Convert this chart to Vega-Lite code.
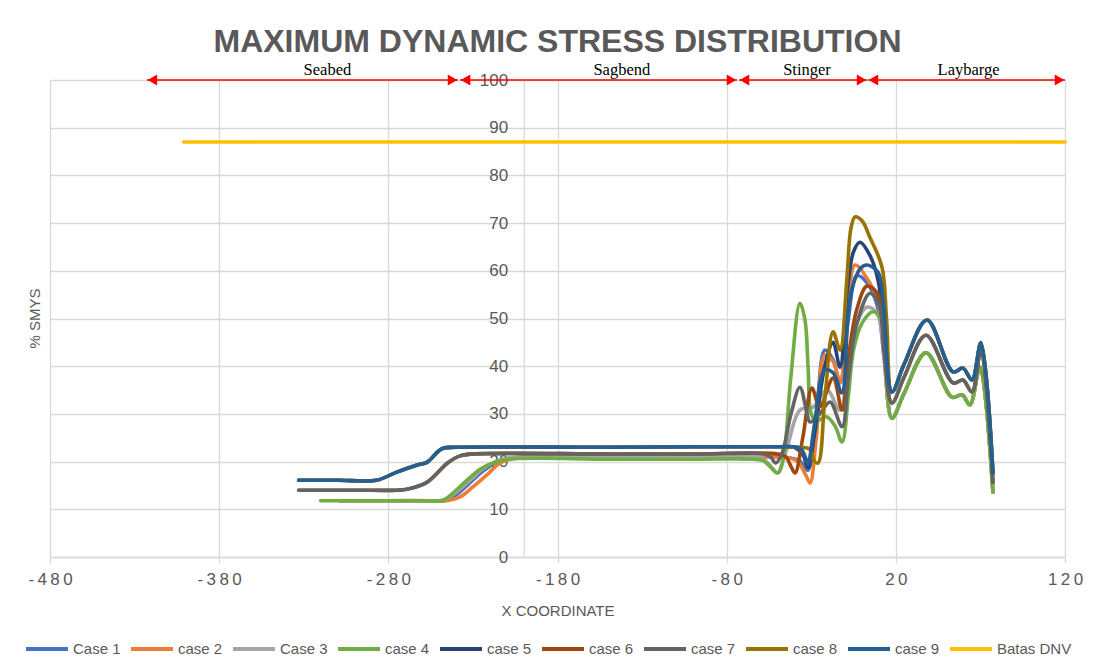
{
  "$schema": "https://vega.github.io/schema/vega-lite/v6.json",
  "width": 1015,
  "height": 477,
  "autosize": {"type": "none"},
  "padding": {"left": 50, "top": 80, "right": 44, "bottom": 112},
  "background": "white",
  "config": {"view": {"stroke": null}, "font": "Liberation Sans"},
  "title": {
    "text": "MAXIMUM DYNAMIC STRESS DISTRIBUTION",
    "font": "Liberation Sans",
    "fontSize": 32,
    "fontWeight": "bold",
    "color": "#595959",
    "anchor": "middle",
    "offset": 3
  },
  "datasets": {
    "arrows": [
      {"label": "Seabed", "x1": -422.7, "x2": -238.8, "xm": -316},
      {"label": "Sagbend", "x1": -237.6, "x2": -73.9, "xm": -142},
      {"label": "Stinger", "x1": -72.7, "x2": 3.0, "xm": -32.5},
      {"label": "Laybarge", "x1": 3.5, "x2": 120, "xm": 63}
    ],
    "lines": [
      {"c":"Case 1","x":-309,"y":11.8},{"c":"Case 1","x":-280,"y":11.8},{"c":"Case 1","x":-255,"y":11.8},{"c":"Case 1","x":-247.7,"y":11.8},{"c":"Case 1","x":-240,"y":13.0},{"c":"Case 1","x":-232,"y":15.5},{"c":"Case 1","x":-224,"y":18.0},{"c":"Case 1","x":-216,"y":19.9},{"c":"Case 1","x":-208,"y":20.7},{"c":"Case 1","x":-195,"y":21.0},{"c":"Case 1","x":-150,"y":21.0},{"c":"Case 1","x":-100,"y":21.0},{"c":"Case 1","x":-60,"y":21.0},{"c":"Case 1","x":-45,"y":20.9},{"c":"Case 1","x":-37,"y":20.2},{"c":"Case 1","x":-32,"y":18.2},{"c":"Case 1","x":-27,"y":30},{"c":"Case 1","x":-21.9,"y":43.4},{"c":"Case 1","x":-17,"y":41.3},{"c":"Case 1","x":-13,"y":36.5},{"c":"Case 1","x":-8,"y":50},{"c":"Case 1","x":-3,"y":59},{"c":"Case 1","x":4,"y":57},{"c":"Case 1","x":9.5,"y":52},{"c":"Case 1","x":13,"y":42},{"c":"Case 1","x":17.7,"y":29.1},{"c":"Case 1","x":25,"y":34.4},{"c":"Case 1","x":37.8,"y":42.8},{"c":"Case 1","x":53.2,"y":33.5},{"c":"Case 1","x":59.1,"y":34.0},{"c":"Case 1","x":63.8,"y":31.9},{"c":"Case 1","x":69.7,"y":39.8},{"c":"Case 1","x":77.4,"y":13.6},

      {"c":"case 2","x":-309,"y":11.8},{"c":"case 2","x":-280,"y":11.8},{"c":"case 2","x":-255,"y":11.8},{"c":"case 2","x":-247.7,"y":11.7},{"c":"case 2","x":-237.6,"y":12.6},{"c":"case 2","x":-230,"y":14.7},{"c":"case 2","x":-221.7,"y":17.2},{"c":"case 2","x":-214,"y":19.7},{"c":"case 2","x":-206.3,"y":20.6},{"c":"case 2","x":-195,"y":21.0},{"c":"case 2","x":-150,"y":21.0},{"c":"case 2","x":-100,"y":21.0},{"c":"case 2","x":-60,"y":21.0},{"c":"case 2","x":-45,"y":20.9},{"c":"case 2","x":-38,"y":20.0},{"c":"case 2","x":-33,"y":17.0},{"c":"case 2","x":-30.7,"y":15.5},{"c":"case 2","x":-27,"y":25},{"c":"case 2","x":-21.9,"y":42.3},{"c":"case 2","x":-17,"y":40.9},{"c":"case 2","x":-13,"y":36.5},{"c":"case 2","x":-8.3,"y":52},{"c":"case 2","x":-4.1,"y":61.2},{"c":"case 2","x":4.7,"y":57.4},{"c":"case 2","x":9.5,"y":53.5},{"c":"case 2","x":13,"y":43},{"c":"case 2","x":17.7,"y":29.1},{"c":"case 2","x":25,"y":34.4},{"c":"case 2","x":37.8,"y":42.8},{"c":"case 2","x":53.2,"y":33.5},{"c":"case 2","x":59.1,"y":34.0},{"c":"case 2","x":63.8,"y":31.9},{"c":"case 2","x":69.7,"y":39.8},{"c":"case 2","x":77.4,"y":13.6},

      {"c":"Case 3","x":-309,"y":11.8},{"c":"Case 3","x":-280,"y":11.8},{"c":"Case 3","x":-255,"y":11.8},{"c":"Case 3","x":-247.7,"y":11.9},{"c":"Case 3","x":-240,"y":13.5},{"c":"Case 3","x":-232,"y":16.0},{"c":"Case 3","x":-224,"y":18.5},{"c":"Case 3","x":-216,"y":20.1},{"c":"Case 3","x":-208,"y":20.8},{"c":"Case 3","x":-195,"y":21.0},{"c":"Case 3","x":-150,"y":21.0},{"c":"Case 3","x":-100,"y":21.0},{"c":"Case 3","x":-66,"y":21.0},{"c":"Case 3","x":-60,"y":20.8},{"c":"Case 3","x":-55,"y":19.5},{"c":"Case 3","x":-50.2,"y":17.6},{"c":"Case 3","x":-45,"y":22},{"c":"Case 3","x":-36.7,"y":30.8},{"c":"Case 3","x":-29,"y":31.4},{"c":"Case 3","x":-20.7,"y":35},{"c":"Case 3","x":-13,"y":30.8},{"c":"Case 3","x":-8,"y":40},{"c":"Case 3","x":-3,"y":49},{"c":"Case 3","x":2.9,"y":52.4},{"c":"Case 3","x":9,"y":51},{"c":"Case 3","x":13,"y":42},{"c":"Case 3","x":17.7,"y":29.1},{"c":"Case 3","x":25,"y":34.4},{"c":"Case 3","x":37.8,"y":42.8},{"c":"Case 3","x":53.2,"y":33.5},{"c":"Case 3","x":59.1,"y":34.0},{"c":"Case 3","x":63.8,"y":31.9},{"c":"Case 3","x":69.7,"y":39.8},{"c":"Case 3","x":77.4,"y":13.6},

      {"c":"case 4","x":-320,"y":11.8},{"c":"case 4","x":-290,"y":11.8},{"c":"case 4","x":-260,"y":11.8},{"c":"case 4","x":-247.7,"y":11.9},{"c":"case 4","x":-241.8,"y":13.4},{"c":"case 4","x":-233.5,"y":16.1},{"c":"case 4","x":-225.8,"y":18.4},{"c":"case 4","x":-218.1,"y":19.7},{"c":"case 4","x":-210,"y":20.5},{"c":"case 4","x":-150,"y":20.5},{"c":"case 4","x":-100,"y":20.5},{"c":"case 4","x":-64,"y":20.5},{"c":"case 4","x":-58.5,"y":20.2},{"c":"case 4","x":-53,"y":18.5},{"c":"case 4","x":-49.7,"y":17.6},{"c":"case 4","x":-46.7,"y":20.3},{"c":"case 4","x":-42,"y":38},{"c":"case 4","x":-36.7,"y":53.2},{"c":"case 4","x":-33.7,"y":49.7},{"c":"case 4","x":-31.9,"y":40},{"c":"case 4","x":-30,"y":30},{"c":"case 4","x":-27,"y":28.5},{"c":"case 4","x":-21,"y":29.4},{"c":"case 4","x":-16,"y":27.5},{"c":"case 4","x":-11.8,"y":24.1},{"c":"case 4","x":-8,"y":34},{"c":"case 4","x":-5,"y":43.4},{"c":"case 4","x":0,"y":49},{"c":"case 4","x":6.5,"y":51.4},{"c":"case 4","x":11,"y":50},{"c":"case 4","x":14,"y":40},{"c":"case 4","x":17.7,"y":29.1},{"c":"case 4","x":25,"y":34.4},{"c":"case 4","x":37.8,"y":42.8},{"c":"case 4","x":53.2,"y":33.5},{"c":"case 4","x":59.1,"y":34.0},{"c":"case 4","x":63.8,"y":31.9},{"c":"case 4","x":69.7,"y":39.8},{"c":"case 4","x":77.4,"y":13.6},

      {"c":"case 5","x":-333,"y":16.1},{"c":"case 5","x":-310,"y":16.1},{"c":"case 5","x":-287,"y":16.1},{"c":"case 5","x":-275,"y":17.8},{"c":"case 5","x":-263,"y":19.3},{"c":"case 5","x":-257,"y":19.9},{"c":"case 5","x":-251,"y":22.0},{"c":"case 5","x":-247.7,"y":22.8},{"c":"case 5","x":-240,"y":23.0},{"c":"case 5","x":-150,"y":23.0},{"c":"case 5","x":-100,"y":23.1},{"c":"case 5","x":-50,"y":23.1},{"c":"case 5","x":-40,"y":23.0},{"c":"case 5","x":-35,"y":21.5},{"c":"case 5","x":-31.9,"y":18.7},{"c":"case 5","x":-28,"y":26},{"c":"case 5","x":-22,"y":40},{"c":"case 5","x":-17.1,"y":45},{"c":"case 5","x":-13,"y":39.8},{"c":"case 5","x":-9,"y":55},{"c":"case 5","x":-5,"y":64},{"c":"case 5","x":-1.2,"y":66},{"c":"case 5","x":5,"y":63},{"c":"case 5","x":9.5,"y":58},{"c":"case 5","x":13,"y":48},{"c":"case 5","x":17.7,"y":34.6},{"c":"case 5","x":25,"y":40.5},{"c":"case 5","x":38.4,"y":49.7},{"c":"case 5","x":53.8,"y":38.8},{"c":"case 5","x":59.7,"y":39.6},{"c":"case 5","x":65,"y":37.1},{"c":"case 5","x":70.3,"y":44.9},{"c":"case 5","x":77.4,"y":17.6},

      {"c":"case 6","x":-333,"y":14.0},{"c":"case 6","x":-300,"y":14.0},{"c":"case 6","x":-275,"y":14.0},{"c":"case 6","x":-269,"y":14.2},{"c":"case 6","x":-257,"y":15.7},{"c":"case 6","x":-245,"y":19.7},{"c":"case 6","x":-237.6,"y":21.2},{"c":"case 6","x":-230,"y":21.6},{"c":"case 6","x":-150,"y":21.6},{"c":"case 6","x":-100,"y":21.6},{"c":"case 6","x":-50,"y":21.6},{"c":"case 6","x":-45,"y":21.0},{"c":"case 6","x":-42,"y":19},{"c":"case 6","x":-39.6,"y":17.6},{"c":"case 6","x":-35,"y":25},{"c":"case 6","x":-29.6,"y":35.4},{"c":"case 6","x":-25,"y":31.5},{"c":"case 6","x":-17.1,"y":37.5},{"c":"case 6","x":-11.8,"y":30.8},{"c":"case 6","x":-8,"y":42},{"c":"case 6","x":-3,"y":52},{"c":"case 6","x":3,"y":56.8},{"c":"case 6","x":9.5,"y":55},{"c":"case 6","x":13,"y":45},{"c":"case 6","x":17.7,"y":32.3},{"c":"case 6","x":25,"y":37.8},{"c":"case 6","x":37.8,"y":46.5},{"c":"case 6","x":53.8,"y":36.5},{"c":"case 6","x":59.7,"y":37.1},{"c":"case 6","x":65,"y":34.6},{"c":"case 6","x":70.3,"y":43.4},{"c":"case 6","x":77.4,"y":15.7},

      {"c":"case 7","x":-333,"y":14.0},{"c":"case 7","x":-300,"y":14.0},{"c":"case 7","x":-275,"y":14.0},{"c":"case 7","x":-269,"y":14.2},{"c":"case 7","x":-257,"y":15.7},{"c":"case 7","x":-245,"y":19.7},{"c":"case 7","x":-237.6,"y":21.2},{"c":"case 7","x":-230,"y":21.6},{"c":"case 7","x":-150,"y":21.6},{"c":"case 7","x":-100,"y":21.6},{"c":"case 7","x":-58,"y":21.6},{"c":"case 7","x":-54,"y":21.0},{"c":"case 7","x":-51,"y":19.7},{"c":"case 7","x":-47,"y":22},{"c":"case 7","x":-42,"y":30},{"c":"case 7","x":-36.7,"y":35.6},{"c":"case 7","x":-33,"y":31},{"c":"case 7","x":-30.7,"y":28.3},{"c":"case 7","x":-25,"y":30},{"c":"case 7","x":-18.9,"y":32.5},{"c":"case 7","x":-11.8,"y":27.3},{"c":"case 7","x":-8,"y":38},{"c":"case 7","x":-3,"y":49},{"c":"case 7","x":4.7,"y":55.3},{"c":"case 7","x":10,"y":53},{"c":"case 7","x":13,"y":43},{"c":"case 7","x":17.7,"y":32.3},{"c":"case 7","x":25,"y":37.8},{"c":"case 7","x":37.8,"y":46.5},{"c":"case 7","x":53.8,"y":36.5},{"c":"case 7","x":59.7,"y":37.1},{"c":"case 7","x":65,"y":34.6},{"c":"case 7","x":70.3,"y":43.4},{"c":"case 7","x":77.4,"y":15.7},

      {"c":"case 8","x":-333,"y":16.1},{"c":"case 8","x":-310,"y":16.1},{"c":"case 8","x":-287,"y":16.1},{"c":"case 8","x":-275,"y":17.8},{"c":"case 8","x":-263,"y":19.3},{"c":"case 8","x":-257,"y":19.9},{"c":"case 8","x":-251,"y":22.0},{"c":"case 8","x":-247.7,"y":22.8},{"c":"case 8","x":-240,"y":23.0},{"c":"case 8","x":-150,"y":23.0},{"c":"case 8","x":-100,"y":23.1},{"c":"case 8","x":-50,"y":23.1},{"c":"case 8","x":-40,"y":23.0},{"c":"case 8","x":-31,"y":22.6},{"c":"case 8","x":-28.5,"y":20.2},{"c":"case 8","x":-26,"y":19.7},{"c":"case 8","x":-22,"y":33},{"c":"case 8","x":-17.1,"y":47.2},{"c":"case 8","x":-13,"y":43.4},{"c":"case 8","x":-9,"y":58},{"c":"case 8","x":-6.5,"y":69},{"c":"case 8","x":-4.1,"y":71.3},{"c":"case 8","x":0,"y":70.5},{"c":"case 8","x":4.7,"y":67},{"c":"case 8","x":11.8,"y":60.8},{"c":"case 8","x":14.5,"y":50},{"c":"case 8","x":17.7,"y":34.6},{"c":"case 8","x":25,"y":40.5},{"c":"case 8","x":38.4,"y":49.7},{"c":"case 8","x":53.8,"y":38.8},{"c":"case 8","x":59.7,"y":39.6},{"c":"case 8","x":65,"y":37.1},{"c":"case 8","x":70.3,"y":44.9},{"c":"case 8","x":77.4,"y":17.6},

      {"c":"case 9","x":-333,"y":16.1},{"c":"case 9","x":-310,"y":16.1},{"c":"case 9","x":-287,"y":16.1},{"c":"case 9","x":-275,"y":17.8},{"c":"case 9","x":-263,"y":19.3},{"c":"case 9","x":-257,"y":19.9},{"c":"case 9","x":-251,"y":22.0},{"c":"case 9","x":-247.7,"y":22.8},{"c":"case 9","x":-240,"y":23.0},{"c":"case 9","x":-150,"y":23.0},{"c":"case 9","x":-100,"y":23.1},{"c":"case 9","x":-50,"y":23.1},{"c":"case 9","x":-40,"y":23.1},{"c":"case 9","x":-36,"y":22.6},{"c":"case 9","x":-33,"y":20.5},{"c":"case 9","x":-31.9,"y":19.5},{"c":"case 9","x":-28,"y":28},{"c":"case 9","x":-22,"y":39.2},{"c":"case 9","x":-17,"y":38.6},{"c":"case 9","x":-12,"y":34.4},{"c":"case 9","x":-8,"y":52},{"c":"case 9","x":-5.3,"y":57},{"c":"case 9","x":-1,"y":60.5},{"c":"case 9","x":3,"y":61.2},{"c":"case 9","x":9.5,"y":59.7},{"c":"case 9","x":12.4,"y":53.9},{"c":"case 9","x":17.7,"y":34.6},{"c":"case 9","x":25,"y":40.5},{"c":"case 9","x":38.4,"y":49.7},{"c":"case 9","x":53.8,"y":38.8},{"c":"case 9","x":59.7,"y":39.6},{"c":"case 9","x":65,"y":37.1},{"c":"case 9","x":70.3,"y":44.9},{"c":"case 9","x":77.4,"y":17.6},

      {"c":"Batas DNV","x":-401,"y":87},{"c":"Batas DNV","x":120,"y":87}
    ]
  },
  "layer": [
    {
      "data": {"name": "lines"},
      "mark": {"type": "line", "interpolate": "catmull-rom", "strokeWidth": 3.6, "strokeCap": "round", "strokeJoin": "round"},
      "encoding": {
        "x": {
          "field": "x", "type": "quantitative",
          "scale": {"domain": [-480, 120], "nice": false, "zero": false},
          "axis": {
            "values": [-480, -380, -280, -180, -80, 20, 120],
            "title": "X COORDINATE",
            "grid": true, "gridColor": "#d9d9d9", "gridWidth": 1.3,
            "domainColor": "#d9d9d9", "domainWidth": 1.3,
            "tickColor": "#d9d9d9", "tickSize": 6, "tickWidth": 1.3,
            "labelFont": "Liberation Sans", "labelFontSize": 17, "labelColor": "#595959",
            "labelPadding": 8, "labelFlush": false,
            "labelExpr": "join(split((datum.value < 0 ? '-' : '') + abs(datum.value), ''), '\u2009')",
            "titleFont": "Liberation Sans", "titleFontSize": 15, "titleColor": "#595959", "titleFontWeight": "normal",
            "titlePadding": 16,
            "zindex": 0
          }
        },
        "y": {
          "field": "y", "type": "quantitative",
          "scale": {"domain": [0, 100], "nice": false},
          "axis": {
            "values": [0, 10, 20, 30, 40, 50, 60, 70, 80, 90, 100],
            "offset": -473.7,
            "title": "% SMYS",
            "titleX": -481,
            "titleY": 238,
            "titleFont": "Liberation Sans", "titleFontSize": 15, "titleColor": "#595959", "titleFontWeight": "normal",
            "grid": true, "gridColor": "#d9d9d9", "gridWidth": 1.3,
            "domainColor": "#d9d9d9", "domainWidth": 1.3,
            "ticks": false,
            "labelFont": "Liberation Sans", "labelFontSize": 17, "labelColor": "#595959",
            "labelPadding": 16,
            "zindex": 0
          }
        },
        "color": {
          "field": "c", "type": "nominal",
          "scale": {
            "domain": ["Case 1", "case 2", "Case 3", "case 4", "case 5", "case 6", "case 7", "case 8", "case 9", "Batas DNV"],
            "range": ["#4472C4", "#ED7D31", "#A5A5A5", "#70AD47", "#264478", "#9E480E", "#636363", "#997300", "#255E91", "#FFC000"]
          },
          "legend": {
            "orient": "none", "legendX": -26, "legendY": 546,
            "direction": "horizontal", "columns": 10, "title": null,
            "symbolType": "stroke", "symbolStrokeWidth": 4, "symbolSize": 1764,
            "labelFont": "Liberation Sans", "labelFontSize": 15, "labelColor": "#595959",
            "labelOffset": 3, "columnPadding": 2, "gridAlign": "each", "padding": 0
          }
        }
      }
    },
    {
      "data": {"name": "arrows"},
      "mark": {"type": "rule", "color": "#FF0000", "strokeWidth": 1.5},
      "encoding": {
        "x": {"field": "x1", "type": "quantitative"},
        "x2": {"field": "x2"},
        "y": {"datum": 100}
      }
    },
    {
      "data": {"name": "arrows"},
      "mark": {"type": "point", "shape": "triangle-left", "filled": true, "color": "#FF0000", "opacity": 1, "size": 121, "xOffset": 5.5},
      "encoding": {
        "x": {"field": "x1", "type": "quantitative"},
        "y": {"datum": 100}
      }
    },
    {
      "data": {"name": "arrows"},
      "mark": {"type": "point", "shape": "triangle-right", "filled": true, "color": "#FF0000", "opacity": 1, "size": 121, "xOffset": -5.5},
      "encoding": {
        "x": {"field": "x2", "type": "quantitative"},
        "y": {"datum": 100}
      }
    },
    {
      "data": {"name": "arrows"},
      "mark": {"type": "text", "font": "Liberation Serif", "fontSize": 16.5, "color": "#000000", "baseline": "alphabetic", "align": "center", "dy": -5},
      "encoding": {
        "x": {"field": "xm", "type": "quantitative"},
        "y": {"datum": 100},
        "text": {"field": "label"}
      }
    }
  ]
}
